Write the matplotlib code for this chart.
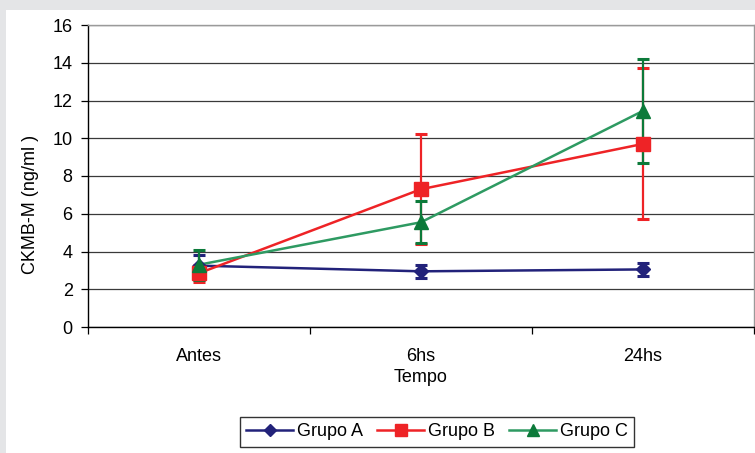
import matplotlib
matplotlib.use("Agg")
import matplotlib.pyplot as plt
from matplotlib.patches import Rectangle
from matplotlib.lines import Line2D

plt.rcParams['font.family'] = ['Liberation Sans', 'DejaVu Sans']

categories = ["Antes", "6hs", "24hs"]
grupo_a = [3.25, 2.95, 3.05]
grupo_a_err = [0.55, 0.35, 0.35]
grupo_b = [2.85, 7.3, 9.7]
grupo_b_err = [0.45, 2.9, 4.0]
grupo_c = [3.3, 5.55, 11.45]
grupo_c_err = [0.8, 1.1, 2.75]
y_ticks = [0, 2, 4, 6, 8, 10, 12, 14, 16]

W, H = 755, 453
fig = plt.figure(figsize=(W / 100, H / 100), dpi=100)
fig.patch.set_facecolor("#e4e5e7")
panel = Rectangle((6 / W, 0), 1, 1 - 10 / H, transform=fig.transFigure,
                  facecolor="white", edgecolor="none", zorder=-10)
fig.add_artist(panel)

ax = fig.add_axes([88 / W, (H - 327) / H, (754 - 88) / W, (327 - 25) / H])
ax.set_zorder(1)
ax.set_facecolor("white")

x = range(len(categories))

series = [
    (grupo_a, grupo_a_err, "Grupo A", "#22227a", "#22227a", "D", 7),
    (grupo_b, grupo_b_err, "Grupo B", "#ee2326", "#ee2326", "s", 10),
    (grupo_c, grupo_c_err, "Grupo C", "#2e9a62", "#0c7a3a", "^", 10),
]

handles = []
for vals, errs, label, lcol, mcol, mk, ms in series:
    ax.errorbar(x, vals, yerr=errs, fmt="none", ecolor=mcol, elinewidth=1.6,
                capsize=4.5, capthick=2.2, zorder=3)
    ax.plot(x, vals, color=lcol, lw=1.8, zorder=4)
    ax.plot(x, vals, linestyle="none", marker=mk, markersize=ms,
            color=mcol, zorder=5)
    handles.append(Line2D([0], [0], color=lcol, lw=1.8, marker=mk,
                          markersize=ms * 0.85, markerfacecolor=mcol,
                          markeredgecolor=mcol))

ax.set_xlim(-0.5, 2.5)
ax.set_ylim(0, 16)
ax.set_yticks(y_ticks)
ax.set_xticks(list(x))
ax.set_xticklabels(categories, fontsize=13)
ax.set_xticks([-0.5, 0.5, 1.5, 2.5], minor=True)
ax.tick_params(axis="x", which="major", length=0, pad=15)
ax.tick_params(axis="x", which="minor", length=5, width=0.9, direction="out")
ax.tick_params(axis="y", labelsize=13, length=5, width=0.9, direction="out", pad=6)

ax.grid(axis="y", color="#3a3a3a", lw=0.9, zorder=1)
ax.set_axisbelow(True)
for side in ("left", "bottom"):
    ax.spines[side].set_color("black")
    ax.spines[side].set_linewidth(1.0)
for side in ("top", "right"):
    ax.spines[side].set_color("#9a9a9a")
    ax.spines[side].set_linewidth(1.0)

ax.set_xlabel("Tempo", fontsize=13, labelpad=3)
ax.set_ylabel("CKMB-M (ng/ml )", fontsize=13)
ax.yaxis.set_label_coords(-0.074, 0.405)

leg = fig.legend(handles, ["Grupo A", "Grupo B", "Grupo C"], loc="center",
                 bbox_to_anchor=(437 / W, (H - 432) / H), ncol=3, fontsize=13,
                 frameon=True, fancybox=False, handlelength=2.6,
                 handletextpad=0.2, columnspacing=0.8, borderpad=0.35)
leg.get_frame().set_edgecolor("black")
leg.get_frame().set_linewidth(1.0)

fig.savefig("out.png", dpi=100, facecolor=fig.get_facecolor())
